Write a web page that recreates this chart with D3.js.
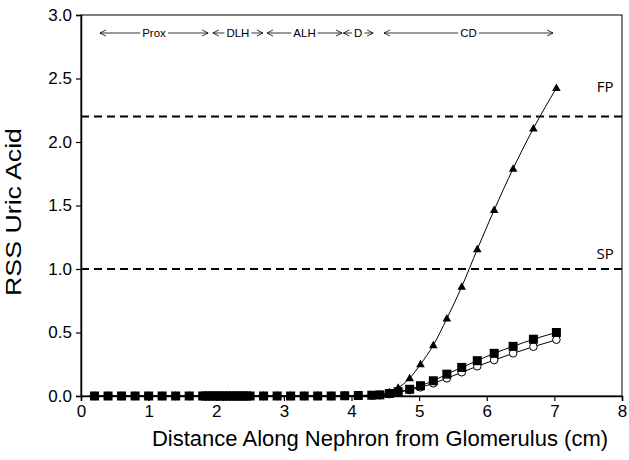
<!DOCTYPE html>
<html><head><meta charset="utf-8">
<script src="https://cdn.jsdelivr.net/npm/d3@7"></script>
<style>body{margin:0;background:#fff}svg{display:block}</style>
</head><body>
<svg id="c" width="629" height="460"></svg>
<script>
// ---- data ----
const distance = [0.2,0.4,0.6,0.8,1.0,1.2,1.4,1.6,
  1.8,1.85,1.9,1.95,2.0,2.05,2.1,2.15,2.2,2.25,2.3,2.35,2.4,2.45,2.5,
  2.7,2.9,3.1,3.3,3.5,3.7,3.9,4.1,4.3,4.42,4.56,4.69,4.86,5.02,5.21,5.41,5.63,5.86,6.11,6.39,6.69,7.03];
const seriesSquare = [0,0,0,0,0,0,0,0,
  0,0,0,0,0,0,0,0,0,0,0,0,0,0,0,
  0,0,0,0,0,0,0.002,0.004,0.006,0.009,0.02,0.034,0.053,0.081,0.12,0.172,0.225,0.278,0.336,0.391,0.447,0.5];
const seriesCircle = [0,0,0,0,0,0,0,0,
  0,0,0,0,0,0,0,0,0,0,0,0,0,0,0,
  0,0,0,0,0,0,0.001,0.002,0.004,0.006,0.015,0.028,0.047,0.068,0.1,0.139,0.187,0.234,0.283,0.336,0.388,0.443];
const seriesTriangle = [0,0,0,0,0,0,0,0,
  0,0,0,0,0,0,0,0,0,0,0,0,0,0,0,
  0,0,0,0,0,0,0.001,0.003,0.006,0.013,0.03,0.065,0.14,0.25,0.40,0.61,0.86,1.155,1.465,1.79,2.107,2.425];
const refLines = [{label:"FP", value:2.2},{label:"SP", value:1.0}];
const segments = [
  {label:"Prox", x0:0.28, x1:1.88},
  {label:"DLH", x0:1.95, x1:2.69},
  {label:"ALH", x0:2.75, x1:3.86},
  {label:"D", x0:3.88, x1:4.32},
  {label:"CD", x0:4.48, x1:6.98}
];
const xTicks = [0,1,2,3,4,5,6,7,8];
const yTicks = [0,0.5,1.0,1.5,2.0,2.5,3.0];

// ---- layout ----
const svg = d3.select("#c");
const L=81, R=622, T=15, B=396;
const x = d3.scaleLinear().domain([0,8]).range([L,R]);
const y = d3.scaleLinear().domain([0,3]).range([B,T]);
const font = "Liberation Sans, Arial, sans-serif";

// frame
svg.append("rect").attr("x",L).attr("y",T).attr("width",R-L).attr("height",B-T)
  .attr("fill","none").attr("stroke","#000").attr("stroke-width",1);

// axes
const xa = svg.append("g").attr("transform",`translate(0,${B})`)
  .call(d3.axisBottom(x).tickValues(xTicks).tickSize(5).tickPadding(4).tickFormat(d3.format("d")));
const ya = svg.append("g").attr("transform",`translate(${L},0)`)
  .call(d3.axisLeft(y).tickValues(yTicks).tickSize(5).tickPadding(4).tickFormat(d3.format(".1f")));
[xa,ya].forEach(g=>{
  g.attr("font-size",null).attr("font-family",null);
  g.select(".domain").attr("stroke","#000").attr("stroke-width",1.5);
  g.selectAll(".tick line").attr("stroke","#000").attr("stroke-width",1.2);
  g.selectAll(".tick text").style("font-family",font).style("font-size","17px").attr("fill","#000");
});

// axis titles
svg.append("text").attr("x",380).attr("y",446).attr("text-anchor","middle")
  .style("font-family",font).style("font-size","22px").text("Distance Along Nephron from Glomerulus (cm)");
svg.append("text").attr("transform",`translate(21,${212}) rotate(-90)`).attr("text-anchor","middle")
  .attr("textLength",168).attr("lengthAdjust","spacingAndGlyphs")
  .style("font-family",font).style("font-size","22px").text("RSS Uric Acid");

// reference lines
refLines.forEach((r,i)=>{
  svg.append("line").attr("x1",x(0)).attr("x2",x(8)).attr("y1",y(r.value)).attr("y2",y(r.value))
    .attr("stroke","#000").attr("stroke-width",2).attr("stroke-dasharray","8,5");
  svg.append("text").attr("x",x(7.75)).attr("y",y(r.value)-(i===0?25:10)).attr("text-anchor","middle")
    .style("font-family","Open Sans, Noto Sans, sans-serif").style("font-size","15px").text(r.label);
});

// segment annotations
const ay = 33;
segments.forEach(s=>{
  const a=x(s.x0), b=x(s.x1);
  const g = svg.append("g");
  g.append("line").attr("x1",a).attr("x2",b).attr("y1",ay).attr("y2",ay).attr("stroke","#000").attr("stroke-width",0.8);
  g.append("path").attr("d",`M${a+6},${ay-3}L${a},${ay}L${a+6},${ay+3}`).attr("fill","none").attr("stroke","#000").attr("stroke-width",0.8);
  g.append("path").attr("d",`M${b-6},${ay-3}L${b},${ay}L${b-6},${ay+3}`).attr("fill","none").attr("stroke","#000").attr("stroke-width",0.8);
  const bgr = g.append("rect").attr("fill","#fff");
  const t = g.append("text").attr("x",(a+b)/2).attr("y",ay+4).attr("text-anchor","middle")
    .style("font-family",font).style("font-size","11.5px").text(s.label);
  const bb = t.node().getBBox();
  bgr.attr("x",bb.x-2).attr("y",bb.y).attr("width",bb.width+4).attr("height",bb.height);
});

// series
const line = d3.line().x(d=>x(d[0])).y(d=>y(d[1])).curve(d3.curveMonotoneX);
const ptsT = distance.map((d,i)=>[d,seriesTriangle[i]]);
const ptsC = distance.map((d,i)=>[d,seriesCircle[i]]);
const ptsS = distance.map((d,i)=>[d,seriesSquare[i]]);
[ptsT,ptsC,ptsS].forEach(p=>{
  svg.append("path").attr("d",line(p)).attr("fill","none").attr("stroke","#000").attr("stroke-width",1);
});
const tri = d3.symbol().type(d3.symbolTriangle).size(32);
svg.append("g").selectAll("path").data(ptsT).join("path")
  .attr("transform",d=>`translate(${x(d[0])},${y(d[1])+0.5})`).attr("d",tri).attr("fill","#000");
svg.append("g").selectAll("circle").data(ptsC).join("circle")
  .attr("cx",d=>x(d[0])).attr("cy",d=>y(d[1])).attr("r",3.8).attr("fill","#fff").attr("stroke","#000").attr("stroke-width",1);
svg.append("g").selectAll("rect").data(ptsS).join("rect")
  .attr("x",d=>x(d[0])-4.5).attr("y",d=>y(d[1])-4.5).attr("width",9).attr("height",9).attr("fill","#000");
</script>
</body></html>
